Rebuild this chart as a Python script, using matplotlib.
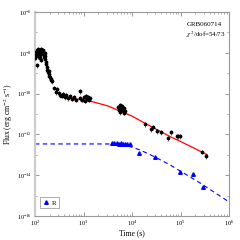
import matplotlib
matplotlib.use("Agg")
import matplotlib.pyplot as plt
from matplotlib.ticker import LogLocator, NullFormatter, LogFormatterMathtext

# X-ray light curve (black points)
xrt_time = [102, 105, 107, 108, 110, 113, 115, 118, 121, 124, 127, 130, 133, 136,
            139, 143, 146, 150, 153, 157, 161, 164, 168, 172, 177, 181, 185, 190,
            194, 199, 204, 209, 214, 219, 246, 271, 290, 313, 327, 360, 377, 415,
            435, 478, 525, 578, 635, 700, 846, 846, 930, 1020, 1070, 1120, 1180,
            1230, 1290, 1360,
            5140, 5390, 5650, 5780, 5920, 6210, 6360, 6510, 6830, 6990, 7160,
            18500, 24700, 27100, 32800, 39600, 55200, 63700, 84700, 88800, 97700,
            277000, 336000]
xrt_flux = [5.6e-9, 1.1e-8, 7.8e-9, 2.5e-9, 1.38e-8, 7.0e-9, 1.5e-8, 9.8e-9, 1.2e-8,
            7.8e-9, 5.6e-9, 4.5e-9, 1.1e-8, 1.5e-8, 1.2e-8, 8.7e-9, 1.38e-8, 7.8e-9,
            6.2e-9, 9.8e-9, 5.0e-9, 7.0e-9, 3.6e-9, 2.8e-9, 2.0e-9, 1.44e-9, 1.15e-9,
            1.3e-9, 9.1e-10, 7.3e-10, 6.5e-10, 5.2e-10, 4.6e-10, 4.1e-10, 1.9e-10,
            1.2e-10, 1.7e-10, 1.07e-10, 8.5e-11, 7.7e-11, 9.6e-11, 6.8e-11, 8.5e-11,
            6.1e-11, 7.7e-11, 5.5e-11, 6.8e-11, 4.9e-11, 1.3e-10, 6.1e-11, 4.9e-11,
            6.8e-11, 4.4e-11, 7.7e-11, 5.5e-11, 6.8e-11, 4.9e-11, 6.1e-11,
            2.2e-11, 1.6e-11, 2.8e-11, 1.26e-11, 1.96e-11, 2.5e-11, 1.6e-11, 1.8e-11,
            1.14e-11, 1.96e-11, 1.4e-11,
            3.2e-12, 1.8e-12, 2.3e-12, 1.47e-12, 1.3e-12, 6.6e-13, 1.3e-12, 8.3e-13,
            8.3e-13, 8.3e-13, 1.38e-13, 8.7e-14]

# fitted X-ray model (red)
fit_time = [330, 525, 1000, 1585, 3160, 5620, 10000, 18600, 31600, 60300, 100000,
            200000, 355000]
fit_flux = [6.8e-11, 6.0e-11, 4.9e-11, 3.9e-11, 2.5e-11, 1.4e-11, 7.9e-12, 3.5e-12,
            1.8e-12, 7.9e-13, 4.5e-13, 2.0e-13, 1.0e-13]

# R band (blue triangles) and its model (blue dashed)
r_time = [3870, 4300, 4800, 5300, 5900, 6500, 7200, 8000, 9100, 13900, 29800,
          97700, 181000, 291000]
r_flux = [3.8e-13, 3.6e-13, 3.7e-13, 3.5e-13, 3.6e-13, 3.4e-13, 3.5e-13, 3.3e-13,
          3.4e-13, 1.23e-13, 7.8e-14, 1.44e-14, 1.15e-14, 2.6e-15]
rfit_time = [100, 3500, 7200, 14600, 29800, 60800, 252000, 1000000]
rfit_flux = [3.4e-13, 3.4e-13, 3.0e-13, 1.74e-13, 7.8e-14, 3.2e-14, 4.2e-15, 4.9e-16]

plt.rcParams["font.family"] = ["Liberation Serif", "DejaVu Serif"]
plt.rcParams["mathtext.fontset"] = "stix"

fig = plt.figure(figsize=(2.4, 2.4), dpi=100)
ax = fig.add_axes([35 / 240, 24 / 240, 194 / 240, 204 / 240])

ax.errorbar(xrt_time, xrt_flux, yerr=[f * 0.25 for f in xrt_flux], fmt="o",
            color="black", ms=1.7, elinewidth=0.4, capsize=0, zorder=3)
ax.plot(fit_time, fit_flux, color="red", lw=0.9, zorder=2)
ax.plot(r_time, r_flux, "^", color="blue", ms=2.6, ls="none", label="R", zorder=3)
ax.plot(rfit_time, rfit_flux, color="blue", lw=0.8, ls=(0, (4, 3)), zorder=2)

ax.set_xscale("log")
ax.set_yscale("log")
ax.set_xlim(1e2, 1e6)
ax.set_ylim(1e-16, 1e-6)

ax.xaxis.set_major_locator(LogLocator(base=10, numticks=10))
ax.xaxis.set_minor_locator(LogLocator(base=10, subs=range(2, 10), numticks=20))
ax.yaxis.set_major_locator(LogLocator(base=100, numticks=10))
ax.yaxis.set_minor_locator(LogLocator(base=10, numticks=20))
ax.xaxis.set_minor_formatter(NullFormatter())
ax.yaxis.set_minor_formatter(NullFormatter())
ax.yaxis.set_major_formatter(LogFormatterMathtext(base=10))

ax.tick_params(which="both", direction="in", top=True, right=True,
               labelsize=4.5, color="#888888", pad=2)
ax.tick_params(which="major", length=3, width=0.6)
ax.tick_params(which="minor", length=1.5, width=0.5)
for side, sp in ax.spines.items():
    sp.set_color("#999999")
    sp.set_linewidth(0.8)
ax.spines["left"].set_linewidth(1.6)
ax.spines["left"].set_color("#cccccc")

ax.set_xlabel("Time (s)", fontsize=5.5)
ax.set_ylabel("Flux (erg cm$^{-2}$ s$^{-1}$)", fontsize=5.5)
ax.xaxis.set_label_coords(0.5, -0.065)
ax.yaxis.set_label_coords(-0.105, 0.5)

ax.text(0.78, 0.93, "GRB060714", transform=ax.transAxes, fontsize=5, ha="left")
ax.text(0.78, 0.88, r"$\chi^2$/dof=54/73", transform=ax.transAxes, fontsize=5,
        ha="left")

leg = ax.legend(loc="lower left", fontsize=5, handlelength=0.8, handletextpad=0.4,
                borderpad=0.4, fancybox=False, markerscale=1.0,
                bbox_to_anchor=(0.01, 0.02))
leg.get_frame().set_edgecolor("#888888")
leg.get_frame().set_linewidth(0.6)

fig.savefig("out.png", dpi=100)
